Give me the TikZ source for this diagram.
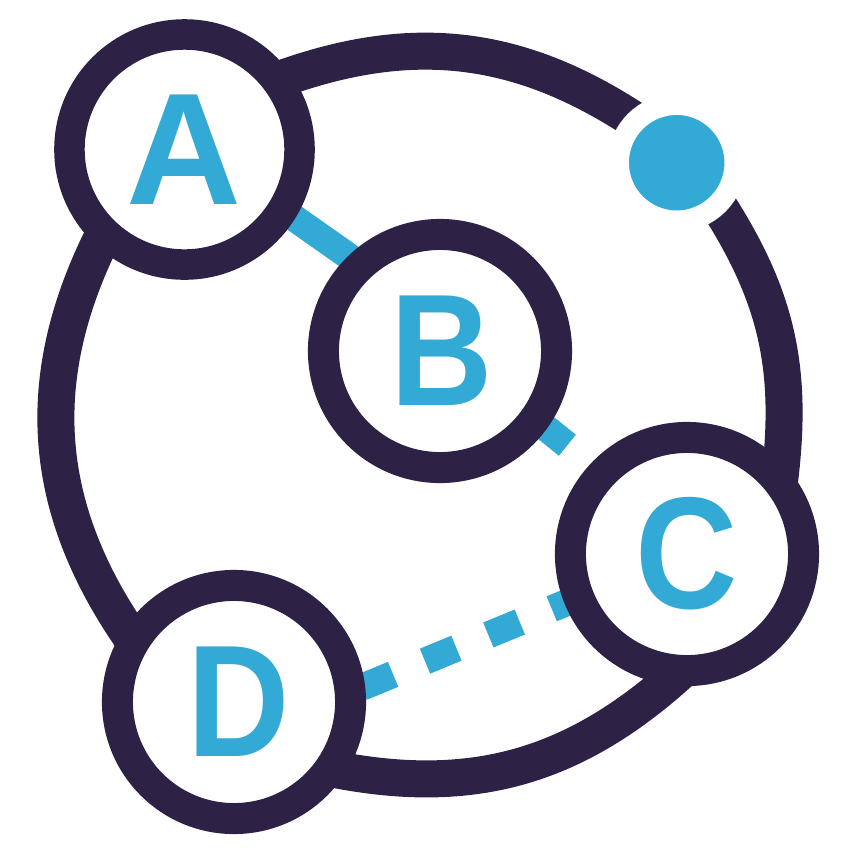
\documentclass[tikz,border=0pt]{standalone}
\usetikzlibrary{backgrounds}
\usepackage{xcolor}
\usepackage{fontspec}
\setmainfont{Liberation Sans}
\newfontfamily\narrowfont[FakeStretch=.89]{Liberation Sans}
\definecolor{ringcol}{HTML}{2E2146}
\definecolor{skycol}{HTML}{33A9D5}

\begin{document}
\begin{tikzpicture}[x=.01cm,y=-.01cm]
    \tikzstyle{letter}=[circle,draw=ringcol,fill=white,text=skycol,inner sep=0pt,minimum size=2.33cm,line width=.31cm,font=\narrowfont\bfseries\fontsize{45.3pt}{50pt}\selectfont]
    \tikzstyle{planet}=[circle,draw=white,fill=skycol,minimum size=1.168cm,line width=.213cm]
    \tikzstyle{orbit}=[draw=ringcol,line width=.37cm,shorten <=-.25cm,shorten >=-.25cm]
    \tikzstyle{link}=[draw=skycol,line width=.27cm,shorten <=-.1cm,shorten >=-.1cm]
    \tikzstyle{dashlink}=[link,dash pattern=on .34cm off .345cm]

    \useasboundingbox (0,0) rectangle (850,850);

    \node[letter,minimum size=2.30cm,line width=.305cm,font=\bfseries\fontsize{45.3pt}{50pt}\selectfont] (A) at (184.5,149.5) {A};
    \node[letter] (B) at (440,351) {\kern.03cm B};
    \node[letter] (C) at (687,554) {C};
    \node[letter] (D) at (234,702) {\kern.1cm D};
    \node[planet] (dot) at (676.7,162.7) {};

    \begin{pgfonlayer}{background}
        \path[link] (A.-32) edge (B.134);
        \path[dashlink,dash phase=.661cm,shorten >=-.25cm] (B.-36.6) edge (C.137);
        \path[dashlink,dash phase=.622cm] (D.7) edge (C.202.3);

        \draw[orbit] (A.35.2) to[bend left=27.75,looseness=.9662] (dot.136.5);
        \draw[orbit] (dot.-47.5) to[bend left=20.5,looseness=.9628] (C.44);
        \draw[orbit] (C.-99) to[bend left=27.4,looseness=.9653] (D.-32);
        \draw[orbit] (D.146) to[bend left=31.8,looseness=.9755] (A.228);
    \end{pgfonlayer}
\end{tikzpicture}
\end{document}
